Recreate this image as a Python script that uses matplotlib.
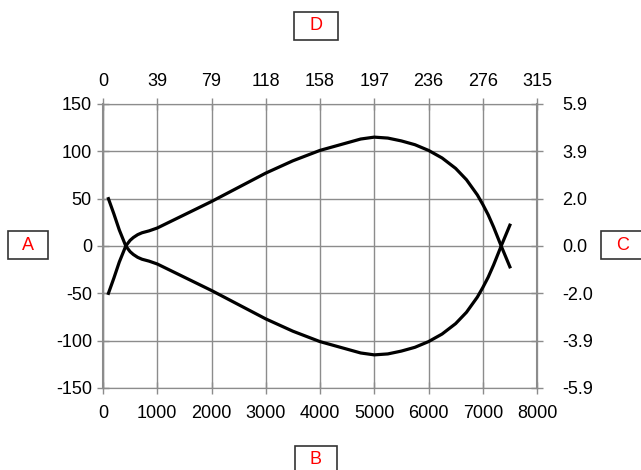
import matplotlib
matplotlib.use("Agg")
import matplotlib.pyplot as plt

plt.rcParams['font.family'] = ['Liberation Sans', 'DejaVu Sans']
plt.rcParams['axes.unicode_minus'] = False

# upper arc (starts bottom-left, bulges up, ends below zero on the right)
arc_x = [100, 200, 300, 420, 500, 560, 640, 720, 850, 1000, 1250, 1500, 1750,
         2000, 2500, 3000, 3500, 4000, 4250, 4500, 4750, 5000, 5250, 5500,
         5750, 6000, 6250, 6500, 6700, 6900, 7000, 7100, 7200, 7340, 7420, 7500]
arc_y = [-50, -34, -17, 0, 6, 9, 12, 14, 16, 19, 26, 33, 40,
         47, 62, 77, 90, 101, 105, 109, 113, 115, 114, 111,
         107, 101, 93, 82, 70, 54, 44, 33, 20, 0, -11, -22]

bottom_ticks = [0, 1000, 2000, 3000, 4000, 5000, 6000, 7000, 8000]
top_labels = ['0', '39', '79', '118', '158', '197', '236', '276', '315']
left_ticks = [-150, -100, -50, 0, 50, 100, 150]
right_labels = ['-5.9', '-3.9', '-2.0', '0.0', '2.0', '3.9', '5.9']

fig = plt.figure(figsize=(6.41, 4.70), dpi=100)
ax = fig.add_axes([103 / 641, 82 / 470, 434 / 641, 284 / 470])

ax.plot(arc_x, arc_y, color='black', lw=2.3, solid_joinstyle='round')
ax.plot(arc_x, [-v for v in arc_y], color='black', lw=2.3, solid_joinstyle='round')

ax.set_xlim(0, 8000)
ax.set_ylim(-150, 150)
ax.set_xticks(bottom_ticks)
ax.set_yticks(left_ticks)
ax.grid(True, color='#8c8c8c', lw=1)
ax.set_axisbelow(True)

gray = '#8c8c8c'
for s in ax.spines.values():
    s.set_color(gray)
ax.spines['left'].set_linewidth(1.5)
ax.spines['right'].set_linewidth(1.5)
ax.spines['top'].set_visible(False)
ax.spines['bottom'].set_visible(False)
ax.tick_params(axis='y', direction='inout', length=8, color=gray, labelsize=13, width=1, pad=4)
ax.tick_params(axis='x', direction='inout', length=8, color=gray, labelsize=13, width=1, pad=8)

axt = ax.twiny()
axt.set_xlim(0, 8000)
axt.set_xticks(bottom_ticks)
axt.set_xticklabels(top_labels)
axt.tick_params(direction='inout', length=8, color=gray, labelsize=13, width=1, pad=6)

axr = ax.twinx()
axr.set_ylim(-150, 150)
axr.set_yticks(left_ticks)
axr.set_yticklabels(right_labels)
axr.tick_params(direction='inout', length=8, color=gray, labelsize=13, width=1, pad=14)
for a in (axt, axr):
    for s in a.spines.values():
        s.set_color(gray)

box = dict(boxstyle='square,pad=0.3', fc='white', ec='#333333', lw=1.2)
fig.text(28 / 641, 1 - 245 / 470, '  A  ', color='red', fontsize=13, ha='center', va='center', bbox=box)
fig.text(316 / 641, 1 - 460 / 470, '  B  ', color='red', fontsize=13, ha='center', va='center', bbox=box)
fig.text(623 / 641, 1 - 245 / 470, '  C  ', color='red', fontsize=13, ha='center', va='center', bbox=box)
fig.text(316 / 641, 1 - 26 / 470, '  D  ', color='red', fontsize=13, ha='center', va='center', bbox=box)

fig.savefig('out.png', dpi=100)
